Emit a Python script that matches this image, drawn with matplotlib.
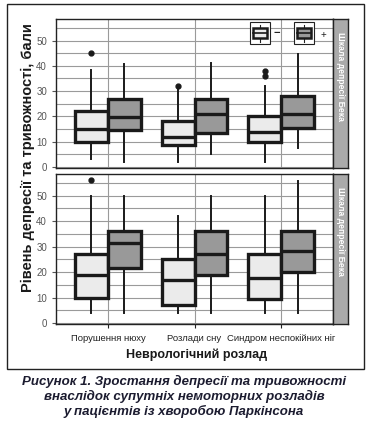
import matplotlib
matplotlib.use("Agg")
import matplotlib.pyplot as plt
from matplotlib.patches import Rectangle
from matplotlib.lines import Line2D

# categories and box statistics
categories = ["Порушення нюху", "Розлади сну", "Синдром неспокійних ніг"]
strip_labels = ["Шкала депресії Бека", "Шкала депресії Бека"]

# top panel: without (-) and with (+) disorder
top_minus_lo = [3, 2, 2]
top_minus_q1 = [10, 8.7, 10]
top_minus_med = [15, 12, 14]
top_minus_q3 = [22, 18, 20]
top_minus_hi = [38.5, 31, 32]
top_minus_fl = [[45], [32], [36, 38]]

top_plus_lo = [2, 5, 7.5]
top_plus_q1 = [14.6, 13.5, 15.5]
top_plus_med = [19.7, 21, 20.8]
top_plus_q3 = [26.8, 27, 28]
top_plus_hi = [40.7, 41, 44.6]
top_plus_fl = [[], [], []]

# bottom panel
bot_minus_lo = [4, 4, 4]
bot_minus_q1 = [10, 7, 9.6]
bot_minus_med = [19, 17, 17.6]
bot_minus_q3 = [27, 25, 27]
bot_minus_hi = [50, 42, 50]
bot_minus_fl = [[56], [], []]

bot_plus_lo = [4, 4, 4]
bot_plus_q1 = [21.6, 19, 20.2]
bot_plus_med = [31.6, 27, 28.2]
bot_plus_q3 = [36, 36, 36]
bot_plus_hi = [50, 50, 55.7]
bot_plus_fl = [[], [], []]

W, H = 368, 425
fig = plt.figure(figsize=(W / 100, H / 100), dpi=100)
plt.rcParams['font.family'] = ['Liberation Sans', 'DejaVu Sans']

def fx(px):
    return px / W

def fy(py):
    return 1 - py / H

def stats(lo, q1, med, q3, hi, fl):
    out = []
    for i in range(len(lo)):
        out.append(dict(whislo=lo[i], q1=q1[i], med=med[i], q3=q3[i],
                        whishi=hi[i], fliers=fl[i]))
    return out

LIGHT = "#ebebeb"
DARK = "#999999"
off = 0.19
bw = 0.38

def draw_panel(ax, minus, plus):
    x = list(range(1, len(categories) + 1))
    for st, color, d in ((minus, LIGHT, -off), (plus, DARK, off)):
        ax.bxp(st, positions=[p + d for p in x], widths=bw, patch_artist=True,
               showcaps=False,
               boxprops=dict(facecolor=color, edgecolor="#1a1a1a", linewidth=2.4),
               medianprops=dict(color="#1a1a1a", linewidth=2.4),
               whiskerprops=dict(color="#1a1a1a", linewidth=1.4),
               flierprops=dict(marker="o", markerfacecolor="#1a1a1a",
                               markeredgecolor="#1a1a1a", markersize=3.5),
               manage_ticks=False, zorder=3)
    ax.set_xlim(0.4, 3.6)
    ax.set_ylim(-0.4, 58.5)
    ax.set_yticks([0, 10, 20, 30, 40, 50])
    ax.set_yticks([5, 15, 25, 35, 45, 55], minor=True)
    ax.set_xticks(x)
    ax.grid(True, which="both", axis="y", color="#9a9a9a", linewidth=0.8, zorder=0)
    ax.grid(True, which="major", axis="x", color="#9a9a9a", linewidth=0.8, zorder=0)
    ax.tick_params(axis="y", which="major", labelsize=7, colors="#555555",
                   length=3, width=0.8)
    ax.tick_params(axis="y", which="minor", length=0)
    for s in ax.spines.values():
        s.set_linewidth(1.0)
        s.set_color("#222222")

def draw_strip(rect, label):
    sax = fig.add_axes(rect)
    sax.set_facecolor("#aaaaaa")
    sax.set_xticks([])
    sax.set_yticks([])
    for s in sax.spines.values():
        s.set_linewidth(1.0)
        s.set_color("#222222")
    sax.text(0.5, 0.615, label, rotation=-90, ha="center", va="center",
             color="white", fontsize=6.2, fontweight="bold",
             family=["Liberation Sans Narrow", "Liberation Sans", "DejaVu Sans"],
             transform=sax.transAxes)

left, right = 56, 333
ax1 = fig.add_axes([fx(left), fy(168), fx(right - left), (168 - 19) / H])
ax2 = fig.add_axes([fx(left), fy(324), fx(right - left), (324 - 174) / H])

draw_panel(ax1, stats(top_minus_lo, top_minus_q1, top_minus_med, top_minus_q3,
                      top_minus_hi, top_minus_fl),
           stats(top_plus_lo, top_plus_q1, top_plus_med, top_plus_q3,
                 top_plus_hi, top_plus_fl))
draw_panel(ax2, stats(bot_minus_lo, bot_minus_q1, bot_minus_med, bot_minus_q3,
                      bot_minus_hi, bot_minus_fl),
           stats(bot_plus_lo, bot_plus_q1, bot_plus_med, bot_plus_q3,
                 bot_plus_hi, bot_plus_fl))

ax1.tick_params(axis="x", length=0, labelbottom=False)
ax2.set_xticklabels(categories)
ax2.tick_params(axis="x", labelsize=6.8, colors="#222222", length=3, width=0.8, pad=4)

draw_strip([fx(right), fy(168), fx(15), (168 - 19) / H], strip_labels[0])
draw_strip([fx(right), fy(324), fx(15), (324 - 174) / H], strip_labels[1])

# axis titles
fig.text(fx(28), fy(158), "Рівень депресії та тривожності, бали", rotation=90,
         ha="center", va="center", fontsize=10.5, fontweight="bold", color="#1a1a1a")
fig.text(fx(197), fy(355), "Неврологічний розлад", ha="center", va="center",
         fontsize=9, fontweight="bold", color="#1a1a1a")

# legend icons
def icon(x0, color):
    fig.add_artist(Rectangle((fx(x0), fy(44)), fx(20), 22 / H, facecolor="white",
                             edgecolor="#222222", linewidth=0.8,
                             transform=fig.transFigure, zorder=5))
    for ya, yb in ((24.5, 28), (38, 41.5)):
        fig.add_artist(Line2D([fx(x0 + 10)] * 2, [fy(ya), fy(yb)], color="#222222",
                              linewidth=0.8, transform=fig.transFigure, zorder=6))
    fig.add_artist(Rectangle((fx(x0 + 3), fy(38)), fx(14), 10 / H,
                             facecolor=color, edgecolor="#1a1a1a", linewidth=1.8,
                             transform=fig.transFigure, zorder=6))
    fig.add_artist(Line2D([fx(x0 + 3), fx(x0 + 17)], [fy(33), fy(33)],
                          color="#1a1a1a", linewidth=1.2,
                          transform=fig.transFigure, zorder=7))

icon(250, LIGHT)
icon(294, DARK)
fig.text(fx(277), fy(33), "−", ha="center", va="center", fontsize=8,
         fontweight="bold", color="#222222", zorder=7)
fig.text(fx(323), fy(35), "+", ha="center", va="center", fontsize=7,
         color="#222222", zorder=7)

# outer frame
fig.add_artist(Rectangle((fx(7), fy(369)), fx(357), (369 - 4) / H, fill=False,
                         edgecolor="#222222", linewidth=1.0,
                         transform=fig.transFigure))

caption = ["Рисунок 1. Зростання депресії та тривожності",
           "внаслідок супутніх немоторних розладів",
           "у пацієнтів із хворобою Паркінсона"]
for i, line in enumerate(caption):
    fig.text(0.5, fy(381 + 15 * i), line, ha="center", va="center",
             fontsize=9.5, fontweight="bold", fontstyle="italic", color="#1c1c30")

fig.savefig("out.png", dpi=100)
